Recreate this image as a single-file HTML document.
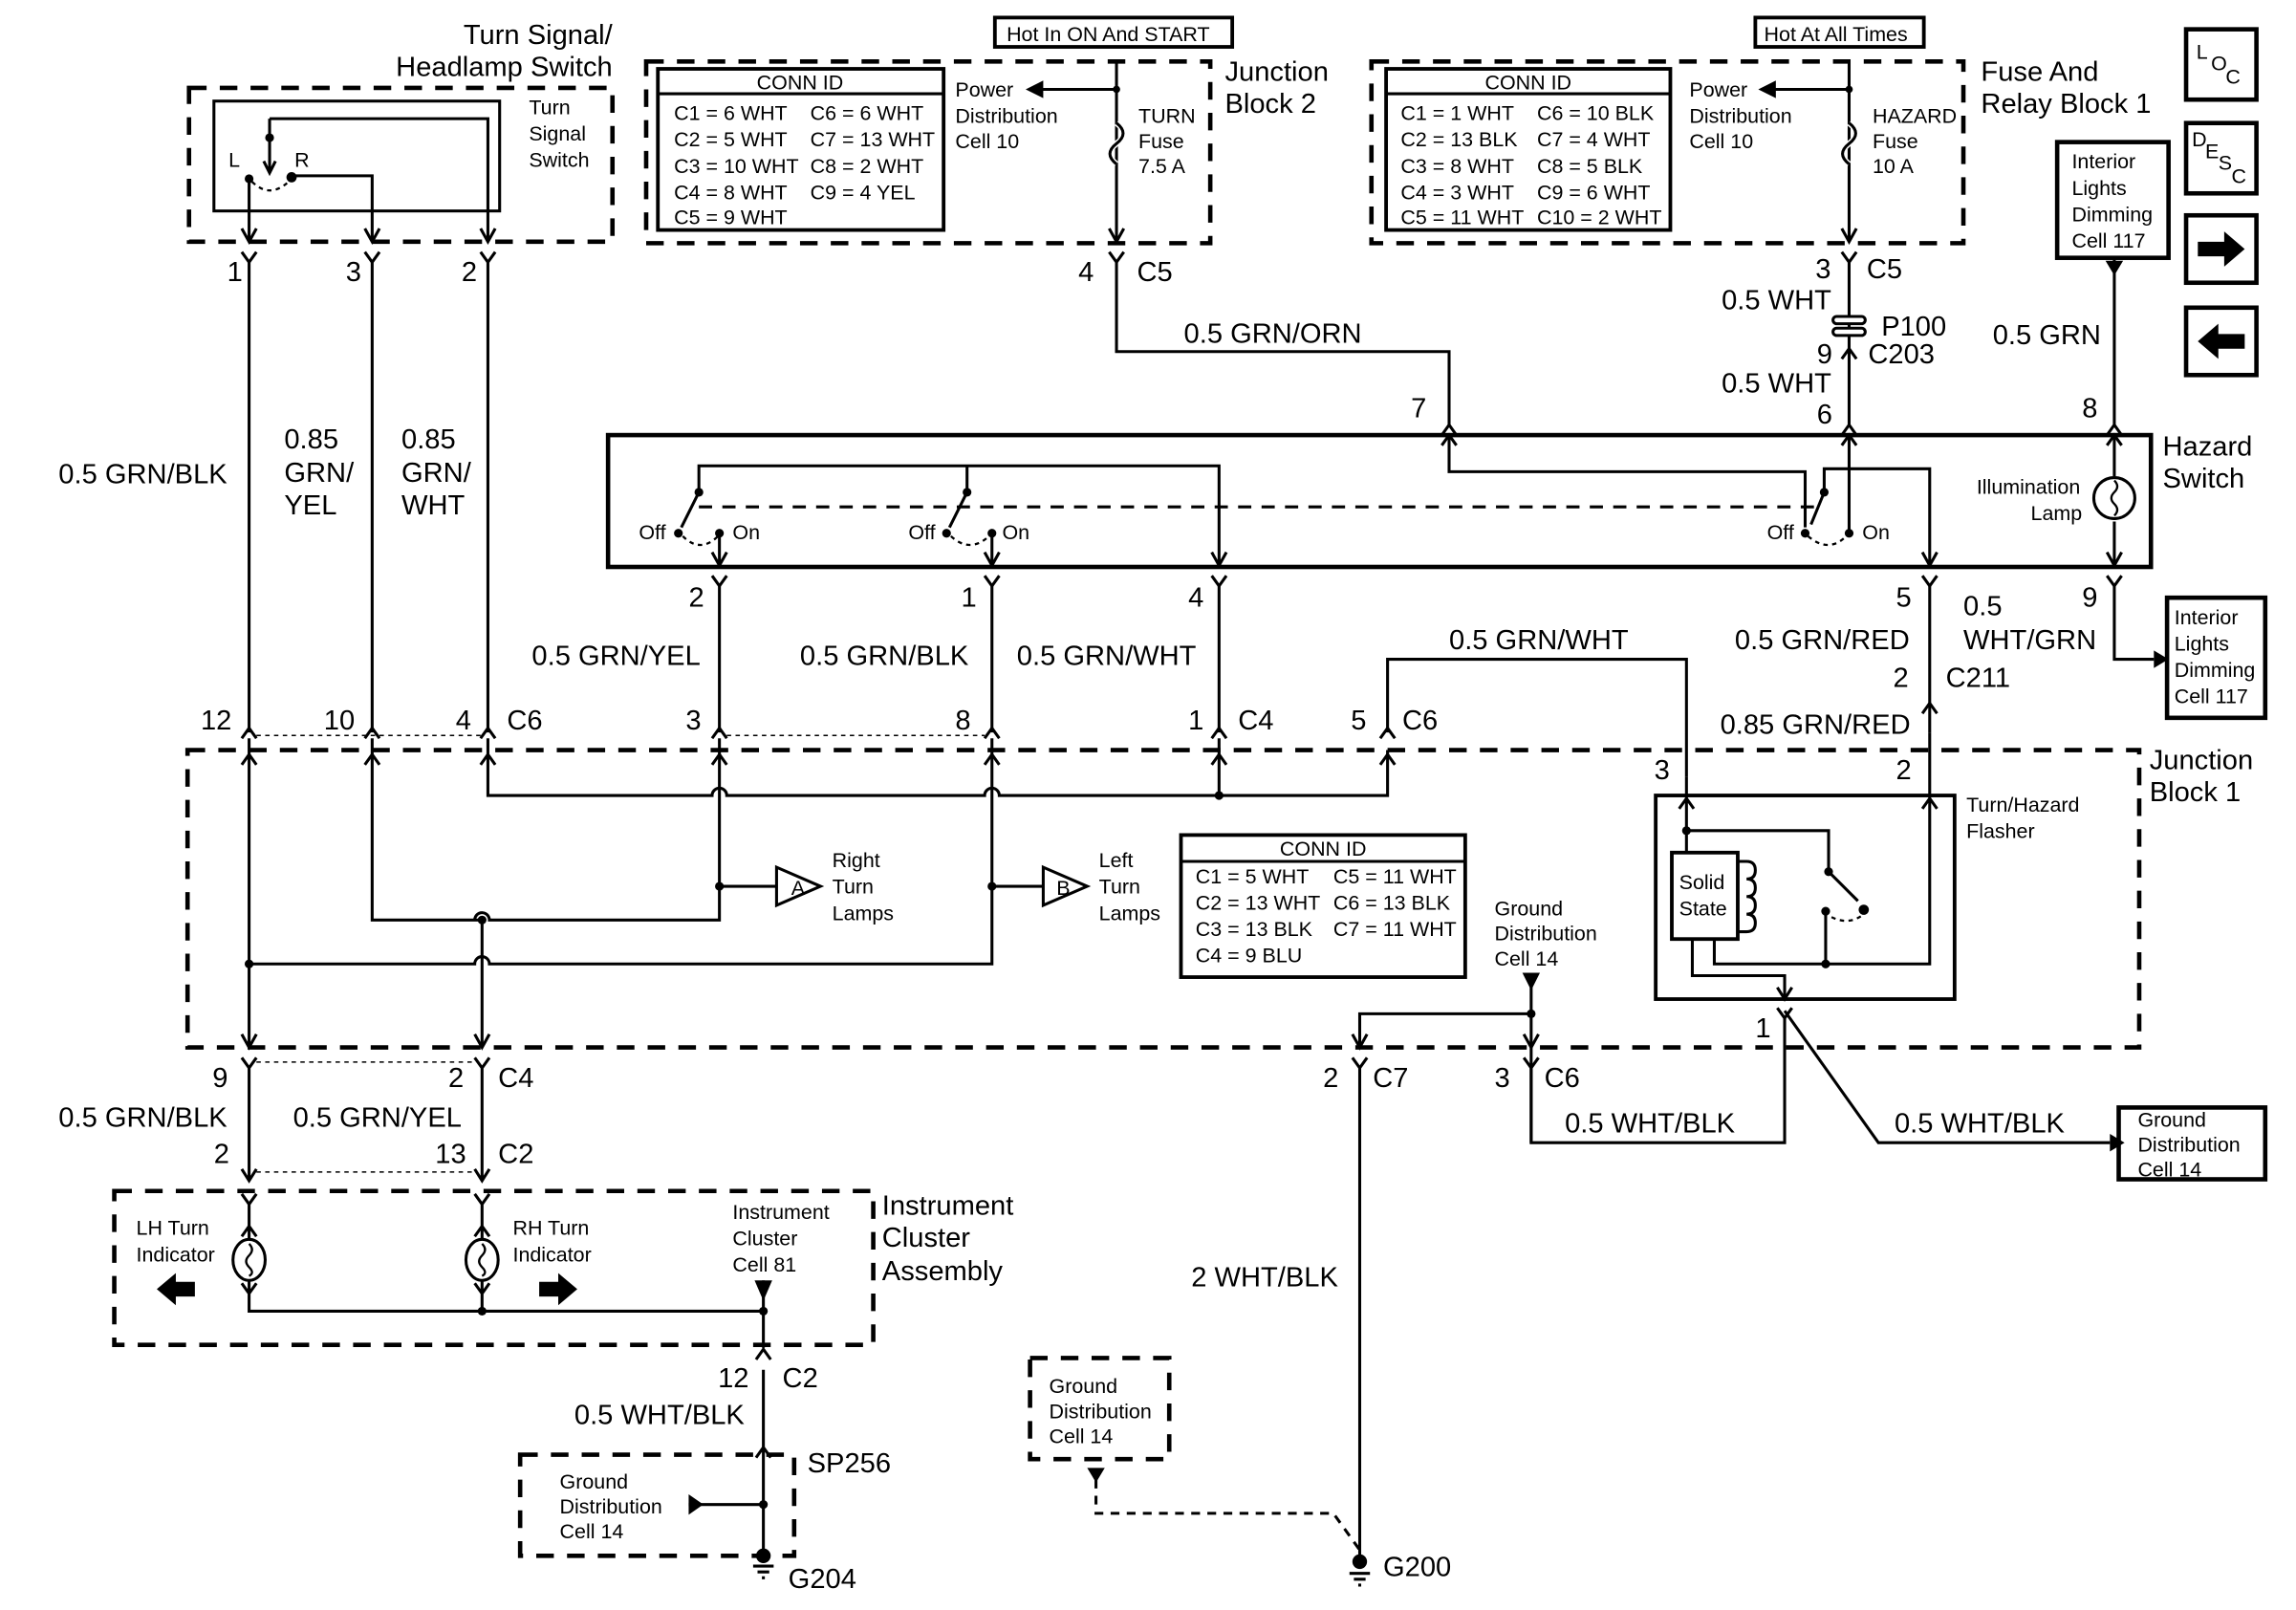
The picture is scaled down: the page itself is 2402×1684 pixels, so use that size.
<!DOCTYPE html>
<html><head><meta charset="utf-8"><style>
html,body{margin:0;padding:0;background:#fff}
svg{display:block}
text{font-family:"Liberation Sans",sans-serif;fill:#000}
.b{font-size:19px}
.s{font-size:14px}
.t{font-size:14px}
</style></head><body>
<svg width="2402" height="1684" viewBox="0 0 1567 1099" preserveAspectRatio="none" xmlns="http://www.w3.org/2000/svg">
<g fill="none" stroke="#000" stroke-width="2">
<!-- Turn signal switch -->
<rect x="129" y="60" width="289" height="105" stroke-width="3" stroke-dasharray="12,9"/>
<rect x="146" y="69" width="195" height="75"/>
<path d="M184 81 H333 V165 M184 81 V118 M170 122 V165 M199 120 H254 V165"/>
<path d="M172 124 Q184 136 197 124" stroke-width="1.5" stroke-dasharray="3,3"/>
<path d="M165 156 L170 165 L175 156 M249 156 L254 165 L259 156 M328 156 L333 165 L338 156 M180 110 L184 118 L188 110"/>
<path d="M165 172 L170 179 L175 172 M249 172 L254 179 L259 172 M328 172 L333 179 L338 172"/>
<path d="M170 179 V500 M254 179 V500 M333 179 V500"/>

<!-- Junction block 2 -->
<rect x="441" y="42" width="385" height="124" stroke-width="3" stroke-dasharray="12,9"/>
<rect x="679" y="12" width="162" height="20" stroke-width="2.5"/>
<rect x="449" y="47" width="195" height="110" stroke-width="2.5"/>
<path d="M449 64 H644"/>
<path d="M762 42 V165 M762 61 H710 M757 156 L762 165 L767 156"/>
<path d="M762 84 q9 7 0 14 q-9 7 0 14" stroke="#fff" stroke-width="4"/>
<path d="M762 84 q9 7 0 14 q-9 7 0 14"/>
<path d="M757 172 L762 179 L767 172 M762 179 V240 H989 V290 M984 297 L989 290 L994 297"/>
<!-- Fuse & relay block -->
<rect x="936" y="42" width="404" height="124" stroke-width="3" stroke-dasharray="12,9"/>
<rect x="1198" y="12" width="115" height="20" stroke-width="2.5"/>
<rect x="946" y="47" width="194" height="110" stroke-width="2.5"/>
<path d="M946 64 H1140"/>
<path d="M1262 42 V165 M1262 61 H1210 M1257 156 L1262 165 L1267 156"/>
<path d="M1262 84 q9 7 0 14 q-9 7 0 14" stroke="#fff" stroke-width="4"/>
<path d="M1262 84 q9 7 0 14 q-9 7 0 14"/>
<path d="M1257 172 L1262 179 L1267 172 M1262 179 V290 M1257 297 L1262 290 L1267 297 M1257 245 L1262 238 L1267 245"/>
<rect x="1251" y="216" width="22" height="5" rx="2.5" fill="#fff"/>
<rect x="1251" y="224" width="22" height="5" rx="2.5" fill="#fff"/>
<!-- right icons -->
<rect x="1492" y="20" width="48" height="48" stroke-width="3"/>
<rect x="1492" y="84" width="48" height="48" stroke-width="3"/>
<rect x="1492" y="147" width="48" height="46" stroke-width="3"/>
<rect x="1492" y="210" width="48" height="46" stroke-width="3"/>
<rect x="1404" y="97" width="76" height="79" stroke-width="3"/>
<path d="M1443 176 V290 M1438 297 L1443 290 L1448 297"/>
<!-- hazard switch -->
<rect x="415" y="297" width="1053" height="90" stroke-width="3"/>
<path d="M477 334 V318 H832 V386 M660 334 V318 M827 377 L832 386 L837 377"/>
<path d="M477 336 L465 360 M660 336 L648 360 M491 364 V386 M486 377 L491 386 L496 377 M677 364 V386 M672 377 L677 386 L682 377"/>
<path d="M466 366 Q478 378 490 366 M649 366 Q662 378 675 366 M1234 366 Q1248 378 1260 366" stroke-width="1.5" stroke-dasharray="3,3"/>
<path d="M477 346 H1245" stroke-dasharray="9,7"/>
<path d="M989 297 V322 H1232 V360 M984 304 L989 297 L994 304 M1245 336 L1236 358 M1245 336 V320 H1262 V297 M1262 320 V364 M1257 304 L1262 297 L1267 304 M1262 320 H1317 V386 M1312 377 L1317 386 L1322 377"/>
<path d="M1443 297 V325 M1443 356 V386 M1438 304 L1443 297 L1448 304 M1438 377 L1443 386 L1448 377"/>
<circle cx="1443" cy="340" r="14"/>
<path d="M1443 328 q4 4 0 8 q-4 4 0 8 q4 4 0 8" stroke-width="1.5"/>
<!-- below hazard -->
<path d="M486 393 L491 400 L496 393 M672 393 L677 400 L682 393 M827 393 L832 400 L837 393 M1312 393 L1317 400 L1322 393 M1438 393 L1443 400 L1448 393"/>
<path d="M491 400 V500 M677 400 V500 M832 400 V500 M1317 400 V500 M1443 400 V450 H1470"/>
<path d="M947 500 V450 H1151 V530"/>
<!-- JB1 top connectors -->
<path d="M165 504 L170 497 L175 504 M249 504 L254 497 L259 504 M328 504 L333 497 L338 504 M486 504 L491 497 L496 504 M672 504 L677 497 L682 504 M827 504 L832 497 L837 504 M942 504 L947 497 L952 504 M1312 487 L1317 480 L1322 487"/>
<path d="M175 502 H328 M496 502 H672" stroke-width="1" stroke-dasharray="3,3"/>
<rect x="128" y="512" width="1332" height="203" stroke-width="3" stroke-dasharray="12,9"/>
<!-- JB1 internal -->
<path d="M170 504 V715 M254 504 V628 H329 M333 504 V543 H486 a5 5 0 0 1 10 0 H672 a5 5 0 0 1 10 0 H947 V512"/>
<path d="M491 504 V628 H334 a5 5 0 0 0 -10 0 M491 605 H530 M677 504 V605 H712 M677 605 V658 H334 a5 5 0 0 0 -10 0 H170 M329 628 V715 M832 504 V543"/>
<path d="M165 522 L170 515 L175 522 M249 522 L254 515 L259 522 M328 522 L333 515 L338 522 M486 522 L491 515 L496 522 M672 522 L677 515 L682 522 M827 522 L832 515 L837 522 M942 522 L947 515 L952 522"/>
<path d="M165 706 L170 715 L175 706 M324 706 L329 715 L334 706"/>
<polygon points="530,592 560,605 530,618" fill="#fff"/>
<polygon points="712,592 742,605 712,618" fill="#fff"/>
<rect x="806" y="570" width="194" height="97" stroke-width="2.5"/>
<path d="M806 588 H1000"/>
<!-- flasher -->
<path d="M1317 500 V543 M1151 530 V543"/>
<rect x="1130" y="543" width="204" height="139" stroke-width="2.5"/>
<rect x="1141" y="582" width="45" height="59" stroke-width="2.5"/>
<path d="M1151 543 V582 M1151 567 H1248 V595 L1268 615 M1246 622 V658 M1170 641 V658 H1317 V543 M1146 552 L1151 545 L1156 552 M1312 552 L1317 545 L1322 552"/>
<path d="M1186 588 h6 q6 0 6 6 q0 6 -6 6 q6 0 6 6 q0 6 -6 6 q6 0 6 6 q0 6 -6 6 q6 0 6 6 q0 6 -6 6 h-6"/>
<path d="M1250 626 Q1262 632 1272 624" stroke-width="1.5" stroke-dasharray="3,3"/>
<path d="M1155 641 V666 H1218 V682 M1213 674 L1218 682 L1223 674 M1213 688 L1218 695 L1223 688 M1218 695 V780 H1045 V715 M1218 690 L1282 780 H1440"/>
<!-- ground dist in JB1 -->
<path d="M1045 672 V715 M1045 692 H928 V715 M923 722 L928 729 L933 722 M1040 722 L1045 729 L1050 722 M928 729 V1062 M1045 729 V780"/>
<path d="M923 706 L928 715 L933 706 M1040 706 L1045 715 L1050 706"/>
<rect x="1446" y="756" width="100" height="49" stroke-width="3"/>
<rect x="1479" y="408" width="67" height="82" stroke-width="3"/>
<!-- below JB1 left -->
<path d="M165 722 L170 729 L175 722 M324 722 L329 729 L334 722 M170 729 V806 M329 729 V806 M165 798 L170 806 L175 798 M324 798 L329 806 L334 798"/>
<path d="M175 725 H324 M175 800 H324" stroke-width="1" stroke-dasharray="3,3"/>
<!-- instrument cluster -->
<rect x="78" y="813" width="518" height="105" stroke-width="3" stroke-dasharray="12,9"/>
<path d="M165 815 L170 822 L175 815 M324 815 L329 822 L334 815 M170 822 V846 M329 822 V846 M170 874 V895 H521 M329 874 V895 M521 874 V920 M165 844 L170 837 L175 844 M324 844 L329 837 L334 844 M165 876 L170 883 L175 876 M324 876 L329 883 L334 876"/>
<ellipse cx="170" cy="860" rx="11" ry="14"/><ellipse cx="329" cy="860" rx="11" ry="14"/>
<path d="M170 849 q4 4 0 8 q-4 4 0 8 q4 4 0 6 M329 849 q4 4 0 8 q-4 4 0 8 q4 4 0 6" stroke-width="1.5"/>
<path d="M516 928 L521 921 L526 928 M521 935 V1062 M516 995 L521 988 L526 995"/>
<rect x="355" y="993" width="187" height="69" stroke-width="3" stroke-dasharray="12,9"/>
<path d="M470 1027 H521"/>
<path d="M514 1069 H528 M517 1073 H525 M520 1077 H522"/>
<!-- G200 ground -->
<rect x="703" y="927" width="95" height="69" stroke-width="3" stroke-dasharray="12,9"/>
<path d="M748 1010 V1033 H910 L928 1058" stroke-dasharray="6,5"/>
<path d="M921 1074 H935 M924 1078 H932 M927 1082 H929"/>
</g>
<g fill="#000">
<circle cx="184" cy="94" r="3"/><circle cx="170" cy="122" r="3"/><circle cx="199" cy="121" r="3.5"/>
<circle cx="762" cy="61" r="2.5"/><circle cx="1262" cy="61" r="2.5"/>
<polygon points="700,61 712,55 712,67"/><polygon points="1200,61 1212,55 1212,67"/>
<circle cx="477" cy="336" r="3"/><circle cx="463" cy="364" r="3"/><circle cx="491" cy="364" r="3"/>
<circle cx="660" cy="336" r="3"/><circle cx="646" cy="364" r="3"/><circle cx="677" cy="364" r="3"/>
<circle cx="1245" cy="336" r="3"/><circle cx="1232" cy="364" r="3"/><circle cx="1262" cy="364" r="3"/>
<circle cx="491" cy="605" r="3"/><circle cx="677" cy="605" r="3"/><circle cx="329" cy="628" r="3"/><circle cx="170" cy="658" r="3"/><circle cx="832" cy="543" r="3"/>
<circle cx="1151" cy="567" r="3"/><circle cx="1248" cy="595" r="3"/><circle cx="1272" cy="621" r="3.5"/><circle cx="1246" cy="622" r="3"/><circle cx="1246" cy="658" r="3"/>
<circle cx="1045" cy="692" r="3"/><polygon points="1039,664 1051,664 1045,676"/>
<polygon points="1470,444 1480,450 1470,456"/><polygon points="1440,774 1450,780 1440,786"/>
<polygon points="1437,178 1449,178 1443,188"/>
<circle cx="329" cy="895" r="3"/><circle cx="521" cy="895" r="3"/><polygon points="515,874 527,874 521,888"/>
<circle cx="521" cy="1027" r="3"/><polygon points="470,1020 480,1027 470,1034"/>
<circle cx="521" cy="1062" r="5"/><circle cx="928" cy="1066" r="5"/>
<polygon points="742,1002 754,1002 748,1012"/>
<polygon points="107,880 120,869 120,875 133,875 133,885 120,885 120,891"/>
<polygon points="394,880 381,869 381,875 368,875 368,885 381,885 381,891"/>
<polygon points="1532,170 1518,158 1518,165 1500,165 1500,175 1518,175 1518,182"/>
<polygon points="1500,233 1514,221 1514,228 1532,228 1532,238 1514,238 1514,245"/>
</g>
<g>
<text class="b" x="418" y="30" text-anchor="end">Turn Signal/</text>
<text class="b" x="418" y="52" text-anchor="end">Headlamp Switch</text>
<text class="t" x="361" y="78">Turn</text><text class="t" x="361" y="96">Signal</text><text class="t" x="361" y="114">Switch</text>
<text class="t" x="156" y="114">L</text><text class="t" x="201" y="114">R</text>
<text class="b" x="155" y="192">1</text><text class="b" x="236" y="192">3</text><text class="b" x="315" y="192">2</text>
<text class="b" x="40" y="330">0.5 GRN/BLK</text>
<text class="b" x="194" y="306">0.85</text><text class="b" x="194" y="329">GRN/</text><text class="b" x="194" y="351">YEL</text>
<text class="b" x="274" y="306">0.85</text><text class="b" x="274" y="329">GRN/</text><text class="b" x="274" y="351">WHT</text>

<text class="t" x="687" y="28">Hot In ON And START</text>
<text class="t" x="546" y="61" text-anchor="middle">CONN ID</text>
<text class="t" x="460" y="82">C1 = 6 WHT</text><text class="t" x="553" y="82">C6 = 6 WHT</text>
<text class="t" x="460" y="100">C2 = 5 WHT</text><text class="t" x="553" y="100">C7 = 13 WHT</text>
<text class="t" x="460" y="118">C3 = 10 WHT</text><text class="t" x="553" y="118">C8 = 2 WHT</text>
<text class="t" x="460" y="136">C4 = 8 WHT</text><text class="t" x="553" y="136">C9 = 4 YEL</text>
<text class="t" x="460" y="153">C5 = 9 WHT</text>
<text class="t" x="652" y="66">Power</text><text class="t" x="652" y="84">Distribution</text><text class="t" x="652" y="101">Cell 10</text>
<text class="t" x="777" y="84">TURN</text><text class="t" x="777" y="101">Fuse</text><text class="t" x="777" y="118">7.5 A</text>
<text class="b" x="836" y="55">Junction</text><text class="b" x="836" y="77">Block 2</text>
<text class="b" x="736" y="192">4</text><text class="b" x="776" y="192">C5</text>
<text class="b" x="808" y="234">0.5 GRN/ORN</text>
<text class="b" x="963" y="285">7</text>

<text class="t" x="1204" y="28">Hot At All Times</text>
<text class="t" x="1043" y="61" text-anchor="middle">CONN ID</text>
<text class="t" x="956" y="82">C1 = 1 WHT</text><text class="t" x="1049" y="82">C6 = 10 BLK</text>
<text class="t" x="956" y="100">C2 = 13 BLK</text><text class="t" x="1049" y="100">C7 = 4 WHT</text>
<text class="t" x="956" y="118">C3 = 8 WHT</text><text class="t" x="1049" y="118">C8 = 5 BLK</text>
<text class="t" x="956" y="136">C4 = 3 WHT</text><text class="t" x="1049" y="136">C9 = 6 WHT</text>
<text class="t" x="956" y="153">C5 = 11 WHT</text><text class="t" x="1049" y="153">C10 = 2 WHT</text>
<text class="t" x="1153" y="66">Power</text><text class="t" x="1153" y="84">Distribution</text><text class="t" x="1153" y="101">Cell 10</text>
<text class="t" x="1278" y="84">HAZARD</text><text class="t" x="1278" y="101">Fuse</text><text class="t" x="1278" y="118">10 A</text>
<text class="b" x="1352" y="55">Fuse And</text><text class="b" x="1352" y="77">Relay Block 1</text>
<text class="b" x="1239" y="190">3</text><text class="b" x="1274" y="190">C5</text>
<text class="b" x="1175" y="211">0.5 WHT</text>
<text class="b" x="1284" y="229">P100</text>
<text class="b" x="1240" y="248">9</text><text class="b" x="1275" y="248">C203</text>
<text class="b" x="1175" y="268">0.5 WHT</text>
<text class="b" x="1240" y="289">6</text>
<text class="b" x="1360" y="235">0.5 GRN</text>
<text class="b" x="1421" y="285">8</text>
<text class="s" x="1499" y="40">L</text><text class="s" x="1509" y="48">O</text><text class="s" x="1519" y="57">C</text>
<text class="s" x="1496" y="100">D</text><text class="s" x="1505" y="108">E</text><text class="s" x="1514" y="116">S</text><text class="s" x="1523" y="125">C</text>
<text class="t" x="1414" y="115">Interior</text><text class="t" x="1414" y="133">Lights</text><text class="t" x="1414" y="151">Dimming</text><text class="t" x="1414" y="169">Cell 117</text>

<text class="b" x="1476" y="311">Hazard</text><text class="b" x="1476" y="333">Switch</text>
<text class="t" x="1349" y="337">Illumination</text><text class="t" x="1386" y="355">Lamp</text>
<text class="t" x="436" y="368">Off</text><text class="t" x="500" y="368">On</text>
<text class="t" x="620" y="368">Off</text><text class="t" x="684" y="368">On</text>
<text class="t" x="1206" y="368">Off</text><text class="t" x="1271" y="368">On</text>

<text class="b" x="470" y="414">2</text><text class="b" x="656" y="414">1</text><text class="b" x="811" y="414">4</text><text class="b" x="1294" y="414">5</text><text class="b" x="1421" y="414">9</text>
<text class="b" x="363" y="454">0.5 GRN/YEL</text>
<text class="b" x="546" y="454">0.5 GRN/BLK</text>
<text class="b" x="694" y="454">0.5 GRN/WHT</text>
<text class="b" x="989" y="443">0.5 GRN/WHT</text>
<text class="b" x="1184" y="443">0.5 GRN/RED</text>
<text class="b" x="1340" y="420">0.5</text><text class="b" x="1340" y="443">WHT/GRN</text>
<text class="t" x="1484" y="426">Interior</text><text class="t" x="1484" y="444">Lights</text><text class="t" x="1484" y="462">Dimming</text><text class="t" x="1484" y="480">Cell 117</text>
<text class="b" x="1292" y="469">2</text><text class="b" x="1328" y="469">C211</text>
<text class="b" x="1174" y="501">0.85 GRN/RED</text>

<text class="b" x="137" y="498">12</text><text class="b" x="221" y="498">10</text><text class="b" x="311" y="498">4</text><text class="b" x="346" y="498">C6</text>
<text class="b" x="468" y="498">3</text><text class="b" x="652" y="498">8</text><text class="b" x="811" y="498">1</text><text class="b" x="845" y="498">C4</text>
<text class="b" x="922" y="498">5</text><text class="b" x="957" y="498">C6</text>
<text class="b" x="1129" y="532">3</text><text class="b" x="1294" y="532">2</text>
<text class="b" x="1467" y="525">Junction</text><text class="b" x="1467" y="547">Block 1</text>
<text class="s" x="540" y="611" font-size="13">A</text><text class="s" x="721" y="611" font-size="13">B</text>
<text class="t" x="568" y="592">Right</text><text class="t" x="568" y="610">Turn</text><text class="t" x="568" y="628">Lamps</text>
<text class="t" x="750" y="592">Left</text><text class="t" x="750" y="610">Turn</text><text class="t" x="750" y="628">Lamps</text>
<text class="t" x="903" y="584" text-anchor="middle">CONN ID</text>
<text class="t" x="816" y="603">C1 = 5 WHT</text><text class="t" x="910" y="603">C5 = 11 WHT</text>
<text class="t" x="816" y="621">C2 = 13 WHT</text><text class="t" x="910" y="621">C6 = 13 BLK</text>
<text class="t" x="816" y="639">C3 = 13 BLK</text><text class="t" x="910" y="639">C7 = 11 WHT</text>
<text class="t" x="816" y="657">C4 = 9 BLU</text>
<text class="t" x="1342" y="554">Turn/Hazard</text><text class="t" x="1342" y="572">Flasher</text>
<text class="t" x="1146" y="607">Solid</text><text class="t" x="1146" y="625">State</text>
<text class="t" x="1020" y="625">Ground</text><text class="t" x="1020" y="642">Distribution</text><text class="t" x="1020" y="659">Cell 14</text>
<text class="b" x="1198" y="708">1</text>

<text class="b" x="145" y="742">9</text><text class="b" x="306" y="742">2</text><text class="b" x="340" y="742">C4</text>
<text class="b" x="40" y="769">0.5 GRN/BLK</text><text class="b" x="200" y="769">0.5 GRN/YEL</text>
<text class="b" x="146" y="794">2</text><text class="b" x="297" y="794">13</text><text class="b" x="340" y="794">C2</text>
<text class="b" x="903" y="742">2</text><text class="b" x="937" y="742">C7</text>
<text class="b" x="1020" y="742">3</text><text class="b" x="1054" y="742">C6</text>
<text class="b" x="1068" y="773">0.5 WHT/BLK</text>
<text class="b" x="1293" y="773">0.5 WHT/BLK</text>
<text class="t" x="1459" y="769">Ground</text><text class="t" x="1459" y="786">Distribution</text><text class="t" x="1459" y="803">Cell 14</text>

<text class="t" x="93" y="843">LH Turn</text><text class="t" x="93" y="861">Indicator</text>
<text class="t" x="350" y="843">RH Turn</text><text class="t" x="350" y="861">Indicator</text>
<text class="t" x="500" y="832">Instrument</text><text class="t" x="500" y="850">Cluster</text><text class="t" x="500" y="868">Cell 81</text>
<text class="b" x="602" y="829">Instrument</text><text class="b" x="602" y="851">Cluster</text><text class="b" x="602" y="874">Assembly</text>
<text class="b" x="490" y="947">12</text><text class="b" x="534" y="947">C2</text>
<text class="b" x="392" y="972">0.5 WHT/BLK</text>
<text class="b" x="551" y="1005">SP256</text>
<text class="t" x="382" y="1016">Ground</text><text class="t" x="382" y="1033">Distribution</text><text class="t" x="382" y="1050">Cell 14</text>
<text class="b" x="538" y="1084">G204</text>
<text class="b" x="813" y="878">2 WHT/BLK</text>
<text class="t" x="716" y="951">Ground</text><text class="t" x="716" y="968">Distribution</text><text class="t" x="716" y="985">Cell 14</text>
<text class="b" x="944" y="1076">G200</text>
</g>
</svg>
</body></html>
